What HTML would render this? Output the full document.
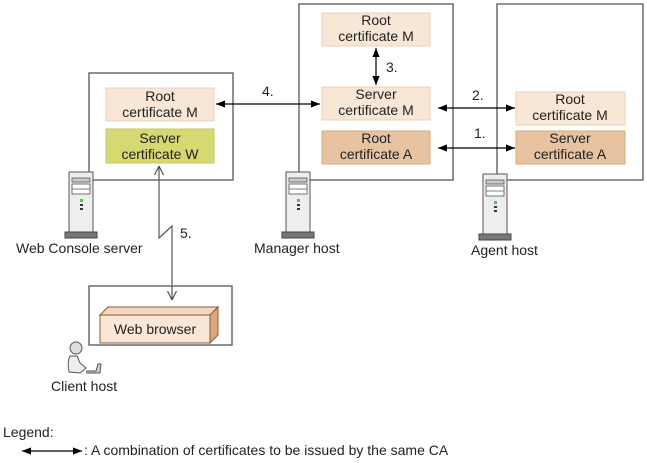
<!DOCTYPE html>
<html><head><style>body{margin:0;background:#fff}svg{display:block}text{font-family:"Liberation Sans",sans-serif;font-size:14px;fill:#222}</style></head><body>
<svg width="647" height="463" viewBox="0 0 647 463" xmlns="http://www.w3.org/2000/svg">
<defs>
<marker id="a" viewBox="0 0 10 10" refX="10" refY="5" markerWidth="12" markerHeight="9" orient="auto-start-reverse" markerUnits="userSpaceOnUse"><path d="M0,1 L10,5 L0,9 z" fill="#000"/></marker>
<marker id="o" viewBox="0 0 10 10" refX="10" refY="5" markerWidth="9" markerHeight="12" orient="auto-start-reverse" markerUnits="userSpaceOnUse"><path d="M0,0 L10,5 L0,10" fill="none" stroke="#444" stroke-width="1.2"/></marker>
<g id="srv"><rect x="0" y="0" width="24" height="60" fill="#eee" stroke="#555"/><rect x="3" y="6" width="18" height="4" fill="#ccc" stroke="#555" stroke-width=".8"/><rect x="3" y="12" width="18" height="10" fill="#fff" stroke="#555" stroke-width=".8"/><line x1="3" y1="17" x2="21" y2="17" stroke="#555" stroke-width=".8"/><rect x="11" y="27" width="3" height="3" fill="#4c4"/><rect x="11" y="32" width="3" height="2" fill="#333"/><rect x="11" y="36" width="3" height="2" fill="#333"/><rect x="-4" y="60" width="32" height="6" fill="#777" stroke="#444"/></g>
</defs>
<g fill="#fff" stroke="#555" stroke-width="1.3">
<rect x="89" y="73" width="144" height="107"/>
<rect x="299" y="4" width="154" height="176"/>
<polyline points="497,180 497,4 643,4 643,180 507,180" fill="none"/>
<rect x="89" y="286" width="143" height="59"/>
</g>
<use href="#srv" x="69" y="172"/>
<use href="#srv" x="286" y="172"/>
<use href="#srv" x="483" y="174"/>
<g stroke-width="1">
<rect x="106" y="88" width="108" height="33" fill="#f8e6d7" stroke="#f0cfb0"/>
<rect x="106" y="129" width="108" height="34" fill="#d6d872" stroke="#c8c860"/>
<rect x="322" y="13" width="108" height="33" fill="#f8e6d7" stroke="#f0cfb0"/>
<rect x="322" y="87" width="108" height="33" fill="#f8e6d7" stroke="#f0cfb0"/>
<rect x="322" y="131" width="108" height="33" fill="#e7c3a2" stroke="#d8a878"/>
<rect x="516" y="92" width="109" height="33" fill="#f8e6d7" stroke="#f0cfb0"/>
<rect x="516" y="131" width="109" height="33" fill="#e7c3a2" stroke="#d8a878"/>
</g>
<g text-anchor="middle">
<text x="160" y="101">Root</text><text x="160" y="117">certificate M</text>
<text x="160" y="143">Server</text><text x="160" y="159">certificate W</text>
<text x="376" y="25">Root</text><text x="376" y="41">certificate M</text>
<text x="376" y="99">Server</text><text x="376" y="115">certificate M</text>
<text x="376" y="143">Root</text><text x="376" y="159">certificate A</text>
<text x="570" y="104">Root</text><text x="570" y="120">certificate M</text>
<text x="570" y="143">Server</text><text x="570" y="159">certificate A</text>
</g>
<g stroke="#000" stroke-width="1.2" fill="none">
<line x1="376" y1="48" x2="376" y2="85" marker-start="url(#a)" marker-end="url(#a)"/>
<line x1="438" y1="108" x2="515" y2="108" marker-start="url(#a)" marker-end="url(#a)"/>
<line x1="438" y1="148" x2="515" y2="148" marker-start="url(#a)" marker-end="url(#a)"/>
<line x1="216" y1="104" x2="320" y2="104" marker-start="url(#a)" marker-end="url(#a)"/>
<polyline points="159,166 159,238 172,226 172,300" stroke="#555" marker-start="url(#o)" marker-end="url(#o)"/>
<line x1="22" y1="451" x2="82" y2="451" marker-start="url(#a)" marker-end="url(#a)"/>
</g>
<text x="386" y="72">3.</text>
<text x="472" y="100">2.</text>
<text x="474" y="138">1.</text>
<text x="262" y="96">4.</text>
<text x="180" y="238">5.</text>
<polygon points="100,315 108,307 218,307 210,315" fill="#f2d8c0" stroke="#8a5a30"/>
<polygon points="210,315 218,307 218,335 210,343" fill="#d9a878" stroke="#8a5a30"/>
<rect x="100" y="315" width="110" height="28" fill="#f8e6d7" stroke="#8a5a30"/>
<text x="155" y="334" text-anchor="middle">Web browser</text>
<circle cx="76" cy="348" r="6" fill="#ddd" stroke="#555"/>
<path d="M70,356 Q67,362 69,372 L80,373 L86,368 L80,363 L77,356 Z" fill="#eee" stroke="#555"/>
<path d="M86,373 L100,373 L101,364 L98,364 L96,371 L86,371" fill="#ccc" stroke="#555"/>
<text x="51" y="391">Client host</text>
<text x="16" y="253">Web Console server</text>
<text x="254" y="253">Manager host</text>
<text x="471" y="255">Agent host</text>
<text x="3" y="437">Legend:</text>
<text x="84" y="455">: A combination of certificates to be issued by the same CA</text>
</svg>
</body></html>
